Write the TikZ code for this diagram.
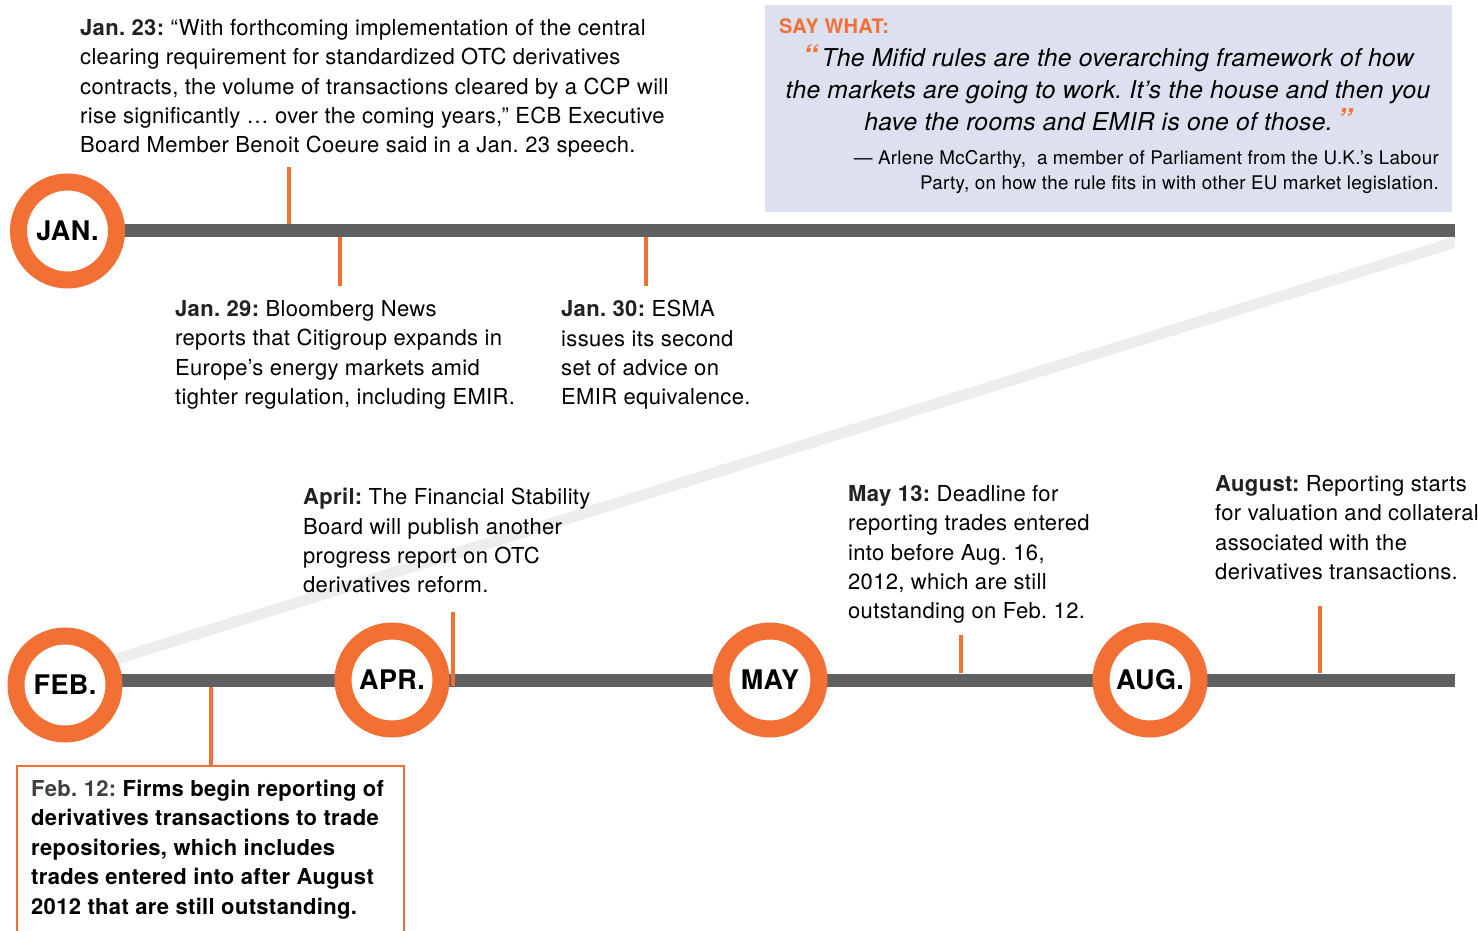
\documentclass[tikz,border=0pt]{standalone}
\usepackage{fontspec}
\setmainfont[LetterSpace=1.5]{TeX Gyre Heros}
\definecolor{org}{HTML}{F37035}
\definecolor{barc}{HTML}{5F6062}
\definecolor{qbg}{HTML}{DDE0EE}
\definecolor{bandc}{HTML}{EDEDED}
\definecolor{lbl}{HTML}{222222}
\begin{document}
\frenchspacing
\begin{tikzpicture}[x=1pt,y=-1pt,
  txt/.style={anchor=north west, inner sep=0pt, align=left, font=\fontsize{22}{29.4}\selectfont},
  month/.style={circle, draw=org, line width=17pt, fill=white, minimum size=98pt, inner sep=0pt, font=\fontsize{27}{27}\selectfont\bfseries},
  tick/.style={draw=org, line width=4pt},
  barline/.style={draw=barc, line width=13pt}]
\useasboundingbox (0,0) rectangle (1478,931);
% light diagonal band
\begin{scope}
\clip (0,0) rectangle (1455,931);
\draw[bandc, line width=11pt] (1462,240) -- (100,664);
\end{scope}
% quote box
\node[fill=qbg, anchor=north west, minimum width=687pt, minimum height=207pt, inner sep=0pt] (qbox) at (765,5) {};
\node[anchor=base west, inner sep=0pt, text=org, font=\fontsize{20}{20}\selectfont\bfseries] (say) at (779,34) {SAY WHAT:};
\node[anchor=north, inner sep=0pt, align=center, font=\fontsize{24.6}{32}\selectfont\itshape] (quote) at (1108,44)
 {\textcolor{org}{\bfseries\fontsize{30}{30}\selectfont“}\,The Mifid rules are the overarching framework of how\\
  the markets are going to work. It’s the house and then you\\
  have the rooms and EMIR is one of those.\,\textcolor{org}{\bfseries\fontsize{30}{30}\selectfont”}};
\node[anchor=north east, inner sep=0pt, align=right, font=\fontsize{18.8}{25.5}\selectfont] (attr) at (1439,150)
 {— Arlene McCarthy,\ \ a member of Parliament from the U.K.’s Labour\\
  Party, on how the rule fits in with other EU market legislation.};
% bars
\coordinate (b1s) at (120,230.5);
\coordinate (b1e) at (1455,230.5);
\coordinate (b2s) at (120,680);
\coordinate (b2e) at (1455,680);
\draw[barline] (b1s) -- (b1e);
\draw[barline] (b2s) -- (b2e);
% ticks
\coordinate (t1a) at (289,167); \coordinate (t1b) at (289,224);
\coordinate (t2a) at (340,237); \coordinate (t2b) at (340,286);
\coordinate (t3a) at (646,237); \coordinate (t3b) at (646,286);
\coordinate (t4a) at (453,612); \coordinate (t4b) at (453,686);
\coordinate (t5a) at (961,635); \coordinate (t5b) at (961,673);
\coordinate (t6a) at (1320,606); \coordinate (t6b) at (1320,673);
\draw[tick] (t1a) -- (t1b);
\draw[tick] (t2a) -- (t2b);
\draw[tick] (t3a) -- (t3b);
\draw[tick] (t4a) -- (t4b);
\draw[tick] (t5a) -- (t5b);
\draw[tick] (t6a) -- (t6b);
% month circles
\node[month] (jan) at (67.5,231) {JAN.};
\node[month] (feb) at (65,685) {FEB.};
\node[month] (apr) at (392,680) {APR.};
\node[month] (may) at (770,680) {MAY};
\node[month] (aug) at (1150,680) {AUG.};
% texts
\node[txt] (n23) at (80,19) {\textbf{\color{lbl}Jan. 23:} “With forthcoming implementation of the central\\
clearing requirement for standardized OTC derivatives\\
contracts, the volume of transactions cleared by a CCP will\\
rise significantly … over the coming years,” ECB Executive\\
Board Member Benoit Coeure said in a Jan. 23 speech.};
\node[txt] (n29) at (175,300) {\textbf{\color{lbl}Jan. 29:} Bloomberg News\\
reports that Citigroup expands in\\
Europe’s energy markets amid\\
tighter regulation, including EMIR.};
\node[txt] (n30) at (561,300) {\textbf{\color{lbl}Jan. 30:} ESMA\\
issues its second\\
set of advice on\\
EMIR equivalence.};
\node[txt] (napr) at (303,488) {\textbf{\color{lbl}April:} The Financial Stability\\
Board will publish another\\
progress report on OTC\\
derivatives reform.};
\node[txt] (nmay) at (848,485) {\textbf{\color{lbl}May 13:} Deadline for\\
reporting trades entered\\
into before Aug. 16,\\
2012, which are still\\
outstanding on Feb. 12.};
\node[txt] (naug) at (1215,475) {\textbf{\color{lbl}August:} Reporting starts\\
for valuation and collateral\\
associated with the\\
derivatives transactions.};
% Feb 12 box
\node[anchor=north west, draw=org, line width=2pt, inner sep=0pt, minimum width=387pt, minimum height=180pt] (fbox) at (16,765) {};
\node[txt, font=\fontsize{22}{29.4}\selectfont\bfseries] (n12) at (31,780) {\textcolor{darkgray}{Feb. 12:} Firms begin reporting of\\
derivatives transactions to trade\\
repositories, which includes\\
trades entered into after August\\
2012 that are still outstanding.};
\coordinate (t7a) at (211,687);
\draw[tick] (t7a) -- (fbox.north -| t7a);
\end{tikzpicture}
\end{document}
